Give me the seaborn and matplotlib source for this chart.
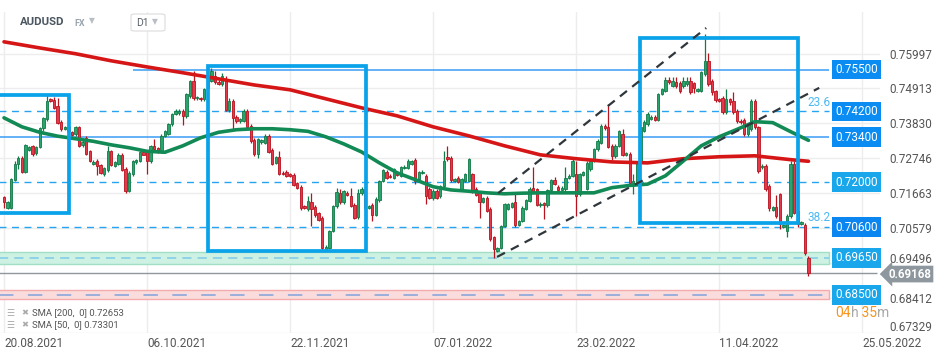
import matplotlib
matplotlib.use("Agg")
import matplotlib.pyplot as plt
import seaborn as sns
import numpy as np
from matplotlib.patches import Rectangle, FancyBboxPatch

# ---- candle data (one candle per session, index 0 = 20.08.2021) ----
opens = [
    .7153, .7120, .7121, .7208, .7257, .7275, .7232, .7300, .7312, .7290,
    .7310, .7367, .7396, .7458, .7456, .7437, .7388, .7365, .7372, .7356,
    .7350, .7370, .7315, .7336, .7297, .7257, .7267, .7254, .7225, .7237,
    .7296, .7251, .7257, .7286, .7241, .7173, .7225, .7262, .7266, .7293,
    .7293, .7266, .7313, .7305, .7296, .7345, .7350, .7381, .7412, .7415,
    .7422, .7406, .7467, .7513, .7460, .7463, .7459, .7492, .7515, .7530,
    .7511, .7506, .7521, .7425, .7453, .7403, .7389, .7391, .7422, .7375,
    .7331, .7289, .7325, .7323, .7344, .7300, .7261, .7277, .7230, .7233,
    .7224, .7223, .7196, .7186, .7125, .7117, .7140, .7122, .7104, .7089,
    .6992, .6995, .7049, .7125, .7165, .7137, .7168, .7158, .7130, .7091,
    .7166, .7180, .7121, .7130, .7099, .7145, .7204, .7233, .7220, .7214,
    .7228, .7220, .7244, .7244, .7258, .7269, .7211, .7228, .7220, .7180,
    .7152, .7174, .7157, .7188, .7278, .7276, .7205, .7213, .7178, .7204,
    .7204, .7225, .7180, .7165, .7138, .7150, .7117, .7029, .6987, .6997,
    .7064, .7118, .7124, .7137, .7068, .7080, .7118, .7142, .7183, .7178,
    .7128, .7135, .7128, .7175, .7206, .7186, .7176, .7178, .7214, .7220,
    .7227, .7163, .7222, .7180, .7241, .7267, .7303, .7323, .7374, .7370,
    .7313, .7282, .7313, .7351, .7286, .7288, .7197, .7200, .7266, .7360,
    .7380, .7396, .7404, .7394, .7474, .7484, .7517, .7500, .7511, .7509,
    .7499, .7505, .7513, .7507, .7484, .7484, .7536, .7577, .7515, .7482,
    .7458, .7463, .7417, .7458, .7453, .7422, .7391, .7393, .7350, .7365,
    .7453, .7370, .7246, .7251, .7189, .7114, .7124, .7163, .7062, .7049,
    .7096, .7256, .7110, .7070, .7068, .6965,
]
highs = [
    .7158, .7143, .7214, .7266, .7280, .7280, .7318, .7312, .7316, .7313,
    .7370, .7404, .7475, .7462, .7465, .7463, .7392, .7375, .7380, .7360,
    .7374, .7374, .7332, .7345, .7300, .7268, .7272, .7258, .7248, .7313,
    .7300, .7266, .7290, .7291, .7246, .7234, .7270, .7271, .7297, .7298,
    .7298, .7316, .7335, .7310, .7349, .7362, .7385, .7416, .7426, .7428,
    .7428, .7478, .7518, .7546, .7468, .7466, .7494, .7530, .7556, .7546,
    .7516, .7540, .7530, .7460, .7458, .7410, .7400, .7428, .7428, .7380,
    .7336, .7338, .7334, .7350, .7350, .7305, .7282, .7298, .7234, .7238,
    .7228, .7228, .7200, .7190, .7130, .7158, .7168, .7128, .7108, .7094,
    .7004, .7053, .7128, .7182, .7180, .7177, .7172, .7182, .7135, .7180,
    .7185, .7186, .7130, .7135, .7153, .7208, .7242, .7238, .7224, .7245,
    .7234, .7250, .7252, .7272, .7270, .7276, .7236, .7238, .7226, .7186,
    .7178, .7180, .7192, .7297, .7313, .7282, .7214, .7218, .7212, .7230,
    .7276, .7230, .7185, .7170, .7155, .7156, .7122, .7034, .7000, .7068,
    .7135, .7135, .7138, .7163, .7084, .7125, .7148, .7184, .7246, .7183,
    .7137, .7140, .7179, .7210, .7215, .7192, .7188, .7246, .7226, .7275,
    .7267, .7230, .7236, .7265, .7272, .7307, .7333, .7380, .7380, .7443,
    .7318, .7318, .7362, .7364, .7294, .7293, .7225, .7266, .7376, .7392,
    .7418, .7410, .7410, .7478, .7494, .7528, .7528, .7528, .7528, .7514,
    .7528, .7528, .7528, .7512, .7494, .7546, .7661, .7600, .7520, .7487,
    .7463, .7468, .7489, .7463, .7480, .7428, .7396, .7398, .7380, .7458,
    .7458, .7375, .7256, .7256, .7194, .7127, .7160, .7168, .7070, .7100,
    .7266, .7266, .7115, .7080, .7073, .6970,
]
lows = [
    .7121, .7117, .7118, .7203, .7240, .7228, .7229, .7298, .7282, .7284,
    .7305, .7360, .7390, .7448, .7428, .7380, .7360, .7362, .7355, .7345,
    .7345, .7308, .7310, .7284, .7262, .7252, .7223, .7226, .7220, .7233,
    .7250, .7246, .7252, .7234, .7168, .7170, .7220, .7258, .7262, .7283,
    .7225, .7260, .7298, .7292, .7290, .7340, .7346, .7376, .7408, .7410,
    .7378, .7400, .7462, .7455, .7455, .7452, .7452, .7488, .7510, .7506,
    .7503, .7500, .7420, .7418, .7366, .7385, .7385, .7386, .7365, .7322,
    .7282, .7276, .7320, .7318, .7290, .7252, .7255, .7222, .7222, .7215,
    .7216, .7188, .7178, .7115, .7118, .7112, .7065, .7092, .7078, .6990,
    .6990, .6993, .7044, .7120, .7132, .7132, .7158, .7122, .7085, .7086,
    .7160, .7116, .7117, .7080, .7095, .7140, .7200, .7210, .7212, .7210,
    .7218, .7216, .7240, .7240, .7254, .7195, .7200, .7224, .7132, .7148,
    .7146, .7148, .7152, .7184, .7266, .7200, .7200, .7198, .7172, .7200,
    .7200, .7168, .7156, .7090, .7134, .7106, .7018, .6966, .6984, .6993,
    .7060, .7114, .7120, .7062, .7064, .7076, .7114, .7138, .7168, .7126,
    .7124, .7085, .7124, .7170, .7190, .7170, .7172, .7174, .7210, .7216,
    .7096, .7158, .7218, .7175, .7236, .7262, .7298, .7318, .7362, .7305,
    .7270, .7276, .7308, .7280, .7282, .7194, .7163, .7195, .7260, .7355,
    .7375, .7392, .7390, .7390, .7470, .7480, .7505, .7495, .7494, .7476,
    .7494, .7500, .7474, .7478, .7480, .7480, .7530, .7500, .7470, .7450,
    .7448, .7412, .7412, .7440, .7412, .7384, .7380, .7345, .7345, .7360,
    .7365, .7230, .7240, .7172, .7111, .7110, .7090, .7055, .7058, .7030,
    .7090, .7100, .7060, .7066, .6975, .6910,
]
closes = [
    .7137, .7140, .7210, .7256, .7275, .7232, .7315, .7310, .7287, .7310,
    .7367, .7399, .7453, .7451, .7432, .7383, .7365, .7372, .7360, .7348,
    .7370, .7313, .7326, .7287, .7266, .7263, .7250, .7230, .7244, .7296,
    .7254, .7262, .7286, .7238, .7173, .7230, .7267, .7268, .7293, .7286,
    .7266, .7313, .7303, .7296, .7345, .7358, .7381, .7413, .7422, .7422,
    .7406, .7475, .7515, .7462, .7463, .7459, .7490, .7524, .7546, .7511,
    .7506, .7530, .7425, .7453, .7399, .7391, .7397, .7422, .7370, .7327,
    .7287, .7334, .7330, .7344, .7295, .7258, .7277, .7227, .7226, .7220,
    .7220, .7192, .7182, .7120, .7121, .7141, .7117, .7097, .7083, .6996,
    .7000, .7049, .7125, .7171, .7137, .7173, .7161, .7127, .7090, .7166,
    .7180, .7121, .7126, .7099, .7149, .7204, .7237, .7214, .7215, .7240,
    .7222, .7246, .7248, .7266, .7266, .7205, .7232, .7233, .7157, .7152,
    .7174, .7152, .7188, .7266, .7271, .7206, .7210, .7202, .7209, .7225,
    .7272, .7173, .7160, .7137, .7150, .7110, .7023, .6992, .6997, .7064,
    .7131, .7131, .7134, .7068, .7080, .7121, .7144, .7180, .7173, .7130,
    .7133, .7128, .7175, .7206, .7194, .7176, .7183, .7214, .7220, .7267,
    .7158, .7225, .7232, .7261, .7267, .7303, .7329, .7375, .7367, .7310,
    .7282, .7313, .7358, .7286, .7290, .7196, .7205, .7262, .7372, .7387,
    .7413, .7404, .7394, .7474, .7489, .7517, .7510, .7515, .7499, .7482,
    .7513, .7515, .7479, .7492, .7490, .7541, .7577, .7505, .7479, .7455,
    .7453, .7417, .7458, .7448, .7417, .7389, .7386, .7350, .7375, .7453,
    .7370, .7236, .7251, .7179, .7121, .7122, .7096, .7070, .7066, .7096,
    .7256, .7105, .7070, .7075, .6980, .6917,
]

# moving averages
sma200_idx = [0, 10, 20, 30, 40, 50, 60, 70, 80, 90, 100, 110, 120,
              130, 140, 150, 160, 170, 180, 190, 200, 210, 220, 225]
sma200_val = [.7636, .7617, .7599, .7577, .7558, .7540, .7521, .7502, .7487,
              .7459, .7431, .7406, .7372, .7344, .7313, .7285, .7273, .7263,
              .7260, .7273, .7279, .7282, .7270, .7265]
sma50_idx = list(range(0, 226, 5))
sma50_val = [.7400, .7372, .7355, .7343, .7335, .7327, .7316, .7307, .7296,
             .7293, .7313, .7338, .7355, .7363, .7366, .7366, .7363, .7358,
             .7341, .7319, .7294, .7260, .7229, .7208, .7186, .7176, .7172,
             .7167, .7164, .7166, .7167, .7167, .7167, .7167, .7183, .7190,
             .7194, .7220, .7266, .7313, .7341, .7364, .7388, .7385, .7357,
             .7330]

# horizontal levels
levels = [0.7550, 0.7420, 0.7340, 0.7200, 0.7060, 0.6965, 0.6850]
level_solid = [True, False, True, False, False, False, False]
level_start = [36.0, -2, -2, -2, -2, -2, -2]
green_zone = (0.6946, 0.6982)
red_zone = (0.6836, 0.6865)
last_price = 0.69168

# rectangles (start idx, end idx, low, high)
box_start = [-3.0, 57.1, 178.0]
box_end = [18.2, 101.3, 222.0]
box_low = [0.7104, 0.6986, 0.7073]
box_high = [0.7471, 0.7561, 0.7648]

# channel lines
chan_x = [[137.9, 228.0], [138.2, 196.4]]
chan_y = [[0.6968, 0.7493], [0.7166, 0.7679]]

fib_labels = ["23.6", "38.2"]
fib_prices = [0.7446, 0.7089]

ytick_vals = [0.75997, 0.74913, 0.73830, 0.72746, 0.71663,
              0.70579, 0.69496, 0.68412, 0.67329]
date_idx = [0, 40, 80, 120, 160, 200, 240]
date_labels = ["20.08.2021", "06.10.2021", "22.11.2021", "07.01.2022",
               "23.02.2022", "11.04.2022", "25.05.2022"]

# ---- style ----
sns.set_theme(style="white")
plt.rcParams['font.family'] = ['Roboto', 'DejaVu Sans']

W, H = 949, 358
fig = plt.figure(figsize=(W / 100, H / 100), dpi=100)
fig.patch.set_facecolor('white')
ax = fig.add_axes([0, (H - 333) / H, 880 / W, (333 - 12) / H])
ax.set_xlim(-1.12, 245.0)
ax.set_ylim(0.67317, 0.77286)
for s in ax.spines.values():
    s.set_visible(False)

# grid
for d in date_idx:
    ax.axvline(d, color='#ededed', lw=1, zorder=0)
for yv in ytick_vals:
    ax.axhline(yv, color='#ededed', lw=1, zorder=0)

# zones
ax.add_patch(Rectangle((-2, green_zone[0]), 232.8, green_zone[1] - green_zone[0],
                       fc='#cdf1e2', ec='#a3dec6', lw=1, zorder=1))
ax.add_patch(Rectangle((-2, red_zone[0]), 232.8, red_zone[1] - red_zone[0],
                       fc='#fbdcdc', ec='#f3abab', lw=1, zorder=1))

# level lines
for lv, solid, st in zip(levels, level_solid, level_start):
    if solid:
        ax.hlines(lv, st, 230.8, color='#3a9cf5', lw=1.1, zorder=2)
    elif lv == 0.6850:
        ax.hlines(lv, st, 230.8, color='#93acdc', lw=1.3, linestyles=(0, (8, 8)), zorder=2)
    elif lv == 0.6965:
        ax.hlines(lv, st, 230.8, color='#7fcbe8', lw=1.1, linestyles=(0, (6, 4)), zorder=2)
    else:
        ax.hlines(lv, st, 230.8, color='#27a4f0', lw=1.0, linestyles=(0, (5, 4)), zorder=2)

ax.hlines(last_price, -2, 244.2, color='#8d979d', lw=1.0, zorder=2)

# candles
x = np.arange(len(opens))
o = np.array(opens); c = np.array(closes)
hi = np.array(highs); lo = np.array(lows)
up = c >= o
body_lo = np.minimum(o, c)
body_h = np.maximum(np.abs(c - o), 0.00035)
ax.vlines(x[up], lo[up], hi[up], color='#127a48', lw=0.9, zorder=3)
ax.vlines(x[~up], lo[~up], hi[~up], color='#b8121f', lw=0.9, zorder=3)
ax.bar(x[up], body_h[up], bottom=body_lo[up], width=0.66,
       color='#29a46c', edgecolor='#127a48', linewidth=0.6, zorder=4)
ax.bar(x[~up], body_h[~up], bottom=body_lo[~up], width=0.66,
       color='#e3394a', edgecolor='#b8121f', linewidth=0.6, zorder=4)

# moving averages
sns.lineplot(x=sma200_idx, y=sma200_val, ax=ax, color='#d61616', lw=2.6,
             zorder=5, legend=False)
sns.lineplot(x=sma50_idx, y=sma50_val, ax=ax, color='#128a55', lw=2.6,
             zorder=5, legend=False)

# rectangles
for b0, b1, bl, bh in zip(box_start, box_end, box_low, box_high):
    ax.add_patch(Rectangle((b0, bl), b1 - b0, bh - bl, fill=False,
                           ec='#0aa3ea', lw=2.7, zorder=6))

# channel
for cx, cy in zip(chan_x, chan_y):
    ax.plot(cx, cy, color='#2f363c', lw=1.6, dashes=(4, 3), zorder=6)

# fib labels
for lab, fp in zip(fib_labels, fib_prices):
    ax.text(231.3, fp, lab, color='#4db8f2', fontsize=8.5, ha='right',
            va='center', zorder=7)

# level price tags
tag_colors = ['#0b8cf2', '#0b8cf2', '#0b8cf2', '#19a6ea', '#0b86f0', '#19a6ea', '#19a6ea']
for lv, tc in zip(levels, tag_colors):
    ax.text(238.5, lv, f"{lv:.5f}", color='white', fontsize=8.5, ha='center',
            va='center', zorder=8, clip_on=False,
            bbox=dict(boxstyle='square,pad=0.28', fc=tc, ec='none'))

# last price tag
ax.text(253.4, last_price - 0.0002, f"{last_price:.5f}", color='white', fontsize=8.3,
        fontweight='bold', ha='center', va='center', zorder=8, clip_on=False,
        bbox=dict(boxstyle='larrow,pad=0.16', fc='#8d979d', ec='none'))

# countdown
t1 = ax.text(232.4, 0.6794, "04", color='#f7941d', fontsize=10, ha='left',
             va='center', clip_on=False)
t2 = ax.annotate("h", xy=(1, 0), xycoords=t1, color='#a8a8a8', fontsize=10,
                 ha='left', va='bottom')
t3 = ax.annotate(" 35", xy=(1, 0), xycoords=t2, color='#f7941d', fontsize=10,
                 ha='left', va='bottom')
ax.annotate("m", xy=(1, 0), xycoords=t3, color='#a8a8a8', fontsize=10,
            ha='left', va='bottom')

# axes ticks; two labels are lifted a little, as the platform does,
# so they stay clear of the price tag and the dates
lifted = {0.69496: 2.5, 0.67329: 4}
ax.yaxis.tick_right()
ax.set_yticks(ytick_vals)
ax.set_yticklabels(["" if v in lifted else f"{v:.5f}" for v in ytick_vals])
for v, dy in lifted.items():
    ax.annotate(f"{v:.5f}", xy=(1, v), xycoords=('axes fraction', 'data'),
                xytext=(7, dy), textcoords='offset points', fontsize=8.5,
                color='#555555', ha='left', va='center', annotation_clip=False)
ax.set_xticks(date_idx)
ax.set_xticklabels(date_labels, ha='left')
ax.tick_params(axis='y', length=0, pad=7, labelsize=8.5, labelcolor='#555555')
ax.tick_params(axis='x', length=0, pad=3, labelsize=8.5, labelcolor='#555555')
ax.grid(False)

# header
def fx(px):
    return px / W

def fy(py):
    return 1 - py / H

fig.text(fx(20), fy(22), "AUDUSD", fontsize=8.2, fontweight='bold', color='#4b5660', va='center')
fig.text(fx(74), fy(23), "FX", fontsize=6.5, fontweight='bold', color='#9aa5ad', va='center')
fig.text(fx(89), fy(21), "\u25BC", fontsize=5.5, color='#b8bec3', va='center')
fig.patches.append(FancyBboxPatch(
    (fx(131), fy(31)), fx(34), 17 / H, boxstyle='round,pad=0,rounding_size=0.004',
    transform=fig.transFigure, fc='white', ec='#dcdcdc', lw=0.8))
fig.text(fx(136), fy(22.5), "D1", fontsize=7.5, color='#5a6066', va='center')
fig.text(fx(152), fy(22), "\u25BC", fontsize=5.5, color='#b8bec3', va='center')

# indicator legend
for py, txt in [(313, "SMA [200,  0] 0.72653"), (325, "SMA [50,  0] 0.73301")]:
    fig.text(fx(6), fy(py), "\u2630", fontsize=6.5, color='#aaaaaa', va='center')
    fig.text(fx(21), fy(py), "\u2716", fontsize=6, color='#aaaaaa', va='center')
    fig.text(fx(32), fy(py), txt, fontsize=6.8, color='#555555', va='center')

fig.savefig("out.png", dpi=100, facecolor='white')
